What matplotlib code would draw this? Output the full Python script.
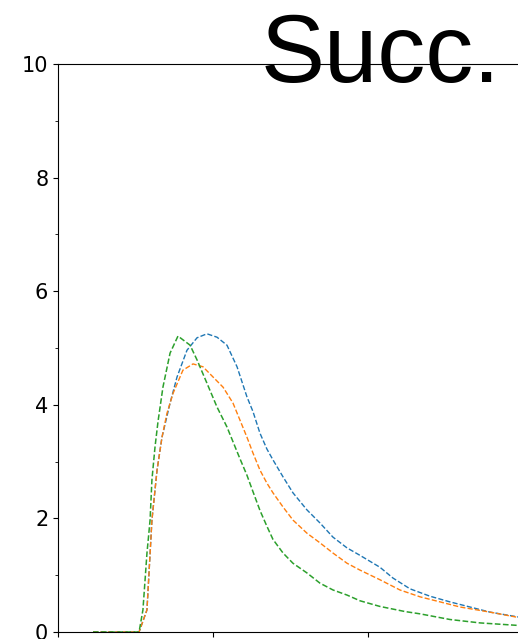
import matplotlib
matplotlib.use("Agg")
import matplotlib.pyplot as plt
from matplotlib.ticker import MultipleLocator

# success-rate curves for the three runs
x_blue = [22.6, 52.3, 57.4, 60.6, 63.9, 67.1, 72.3, 76.8, 83.2, 89.7, 96.1, 102.6, 109,
          115.5, 121.9, 125.8, 130.3, 134.8, 138.7, 145.2, 151.6, 160.6, 169, 177.4,
          186.5, 194.8, 207.7, 216.1, 227.1, 240, 252.9, 265.8, 278.7, 300]
y_blue = [0, 0, 0.39, 1.97, 2.85, 3.43, 4.03, 4.49, 4.96, 5.18, 5.25, 5.19, 5.05, 4.67,
          4.14, 3.88, 3.5, 3.22, 3.03, 2.73, 2.45, 2.15, 1.92, 1.67, 1.48, 1.35, 1.14,
          0.95, 0.76, 0.63, 0.53, 0.44, 0.35, 0.25]

x_orange = [22.6, 52.3, 57.4, 60.6, 63.9, 67.1, 70.3, 74.2, 80.6, 87.1, 93.5, 100,
            106.5, 112.9, 117.4, 121.9, 125.8, 130.3, 134.8, 138.7, 145.2, 151.6, 160.6,
            169, 177.4, 186.5, 194.8, 207.7, 220.6, 233.5, 246.5, 259.4, 278.7, 300]
y_orange = [0, 0, 0.39, 1.97, 2.85, 3.43, 3.85, 4.2, 4.61, 4.72, 4.67, 4.49, 4.31, 4.03,
            3.73, 3.43, 3.15, 2.85, 2.62, 2.45, 2.2, 1.97, 1.74, 1.57, 1.39, 1.21, 1.09,
            0.92, 0.74, 0.62, 0.53, 0.44, 0.35, 0.24]

x_green = [22.6, 52.3, 54.8, 57.4, 59.4, 60.6, 62.6, 64.5, 67.7, 72.3, 77.4, 85.2, 89.7,
           96.1, 102.6, 109, 112.9, 117.4, 121.9, 125.8, 130.3, 134.8, 138.7, 145.2,
           151.6, 160.6, 169, 177.4, 186.5, 194.8, 207.7, 223.9, 233.5, 252.9, 272.3, 300]
y_green = [0, 0, 0.39, 1.39, 1.97, 2.68, 3.26, 3.7, 4.31, 4.91, 5.21, 5.05, 4.79, 4.38,
           3.96, 3.61, 3.35, 3.05, 2.76, 2.47, 2.14, 1.86, 1.63, 1.39, 1.21, 1.04, 0.86,
           0.74, 0.65, 0.55, 0.45, 0.36, 0.32, 0.22, 0.16, 0.11]

fig = plt.figure(figsize=(5.18, 6.39), dpi=100)
ax = fig.add_axes([58 / 518, 7 / 639, 465 / 518, 568 / 639])

ax.plot(x_blue, y_blue, '--', color='tab:blue', lw=1)
ax.plot(x_orange, y_orange, '--', color='tab:orange', lw=1)
ax.plot(x_green, y_green, '--', color='tab:green', lw=1.1)

ax.set_xlim(0, 300)
ax.set_ylim(0, 10)
ax.set_xticks([0, 100, 200, 300])
ax.set_yticks([0, 2, 4, 6, 8, 10])
ax.yaxis.set_minor_locator(MultipleLocator(1))
ax.tick_params(labelsize=15)
ax.tick_params(axis='x', labelbottom=False)

fig.text(261 / 518, (639 - 82) / 639, 'Succ.', fontsize=69,
         family='Liberation Sans', ha='left', va='baseline')

plt.savefig('out.png', dpi=100)
